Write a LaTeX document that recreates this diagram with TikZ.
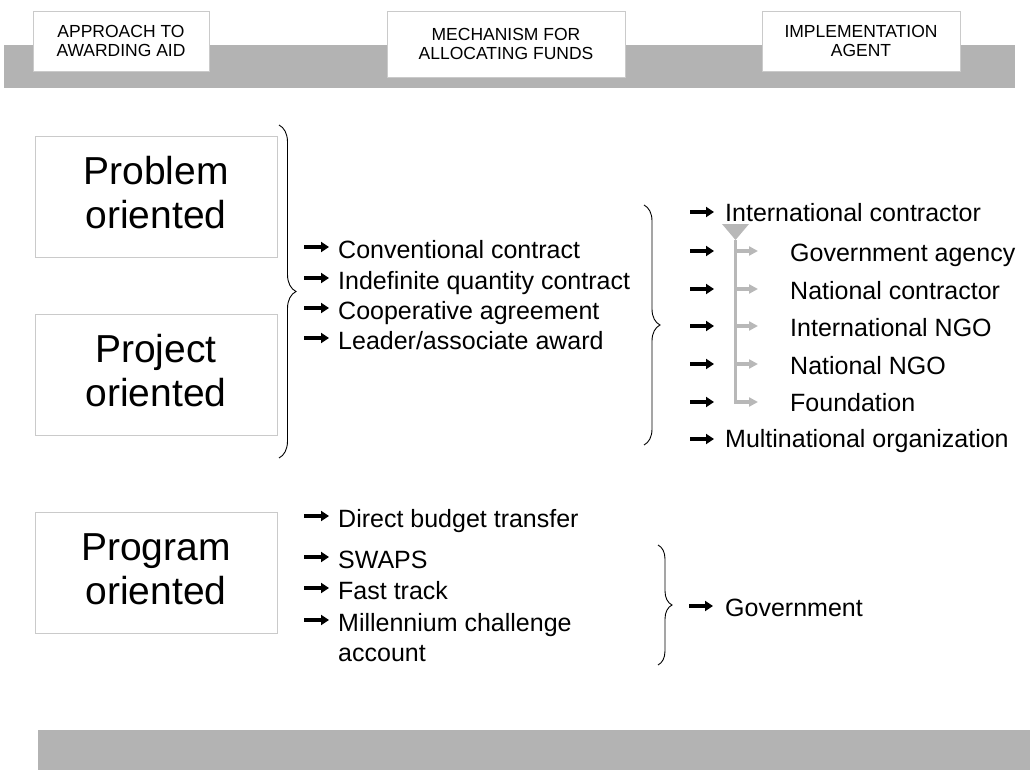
\documentclass[tikz,border=0pt]{standalone}
\usepackage{fontspec}
\setmainfont{Liberation Sans}
\usetikzlibrary{decorations.pathreplacing,arrows.meta}
\definecolor{bandgray}{HTML}{B3B3B3}
\definecolor{boxline}{HTML}{CACACA}
\definecolor{treegray}{HTML}{B8B8B8}
\tikzset{
  hdrbox/.style={draw=boxline,line width=0.8pt,fill=white,align=center,inner sep=0pt,
    font=\fontsize{17.5}{18.5}\selectfont},
  bigbox/.style={draw=boxline,line width=1pt,inner sep=0pt,
    minimum width=242,minimum height=121},
  bigtext/.style={align=center,inner sep=0pt,font=\fontsize{39}{44}\selectfont},
  item/.style={anchor=base west,inner sep=0pt,font=\fontsize{25}{30}\selectfont,align=left},
  blk/.style={line width=3.2pt,-{Triangle[length=8pt,width=10pt]}},
  gry/.style={draw=treegray,line width=3.2pt,-{Triangle[length=9pt,width=9pt]}},
  bracestyle/.style={decorate,line width=0.9pt},
}
\begin{document}
\begin{tikzpicture}[x=1pt,y=-1pt]
\useasboundingbox (0,0) rectangle (1030,770);
% bands
\fill[bandgray] (4,45) rectangle (1015,88);
\fill[bandgray] (38,730) rectangle (1030,770);
% header boxes
\node[hdrbox,minimum width=176,minimum height=60] (h1) at (121,41) {APPROACH TO\\AWARDING AID};
\node[hdrbox,minimum width=238,minimum height=66] (h2) at (506,44) {MECHANISM FOR\\ALLOCATING FUNDS};
\node[hdrbox,minimum width=198,minimum height=60] (h3) at (861,41) {IMPLEMENTATION\\AGENT};
% approach boxes
\node[bigbox] (prob) at (156,197) {};
\node[bigtext] (probt) at ([yshift=4pt]prob.center) {Problem\\oriented};
\node[bigbox] (proj) at (156,375) {};
\node[bigtext] (projt) at ([yshift=4pt]proj.center) {Project\\oriented};
\node[bigbox] (prog) at (156,573) {};
\node[bigtext] (progt) at ([yshift=4pt]prog.center) {Program\\oriented};
% braces
\draw[bracestyle,decoration={brace,amplitude=17pt}] (279,125) -- (279,458);
\draw[bracestyle,decoration={brace,amplitude=16pt}] (644,205) -- (644,445);
\draw[bracestyle,decoration={brace,amplitude=14pt}] (658,545) -- (658,665);
% mechanisms
\node[item] (m1) at (338,258) {Conventional contract};
\node[item] (m2) at (338,289) {Indefinite quantity contract};
\node[item] (m3) at (338,319) {Cooperative agreement};
\node[item] (m4) at (338,349) {Leader/associate award};
\foreach \n/\y in {m1/258,m2/289,m3/319,m4/349}{
  \coordinate (t\n) at (304,\y-11);
  \draw[blk] (t\n) -- ([xshift=-9pt,yshift=11pt]\n.base west);
}
% implementation agents
\node[item] (a1) at (725,222) {International contractor};
\node[item] (a7) at (725,447) {Multinational organization};
\node[item] (a2) at (790,261) {Government agency};
\node[item] (a3) at (790,299) {National contractor};
\node[item] (a4) at (790,336) {International NGO};
\node[item] (a5) at (790,374) {National NGO};
\node[item] (a6) at (790,411) {Foundation};
\coordinate (ta1) at (690,212);
\draw[blk] (ta1) -- ([xshift=-11pt,yshift=10pt]a1.base west);
\coordinate (ta7) at (690,439);
\draw[blk] (ta7) -- ([xshift=-11pt,yshift=8pt]a7.base west);
% gray tree
\coordinate (tri) at (735.5,240);
\fill[treegray] (722,224) -- (749,224) -- (tri) -- cycle;
\coordinate (tb) at (735.5,403);
\draw[treegray,line width=3.2pt] (tri) -- (tb);
\foreach \n/\y in {a2/251,a3/289,a4/326,a5/364,a6/402}{
  \coordinate (s\n) at (690,\y);
  \coordinate (e\n) at (714,\y);
  \draw[blk] (s\n) -- (e\n);
  \coordinate (g\n) at (734,\y);
  \coordinate (h\n) at (758,\y);
  \draw[gry] (g\n) -- (h\n);
}
% program mechanisms
\node[item] (p1) at (338,527) {Direct budget transfer};
\node[item] (p2) at (338,568) {SWAPS};
\node[item] (p3) at (338,599) {Fast track};
\node[item] (p4) at (338,661) {Millennium challenge\\account};
\foreach \n/\y in {p1/527,p2/568,p3/599}{
  \coordinate (t\n) at (304,\y-11);
  \draw[blk] (t\n) -- ([xshift=-9pt,yshift=11pt]\n.base west);
}
\coordinate (tp4) at (304,620);
\draw[blk] (tp4) -- ([xshift=-9pt,yshift=41pt]p4.base west);
\node[item] (gov) at (725,616) {Government};
\coordinate (tgov) at (689,606);
\draw[blk] (tgov) -- ([xshift=-12pt,yshift=10pt]gov.base west);
\end{tikzpicture}
\end{document}
